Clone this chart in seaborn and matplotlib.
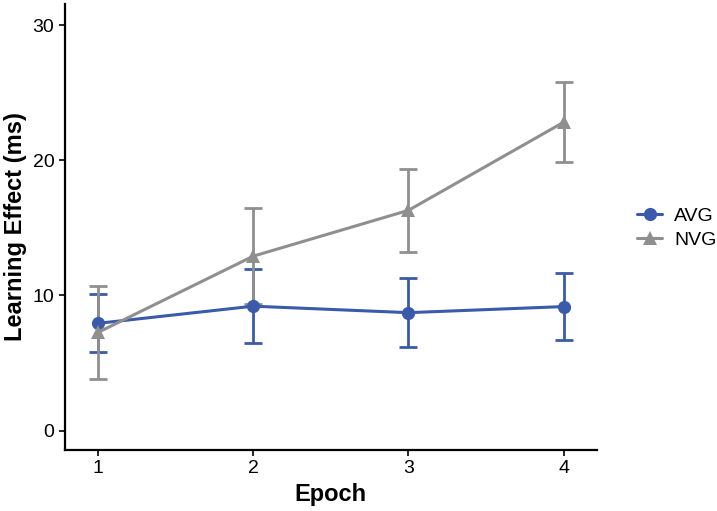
import numpy as np
import pandas as pd
import matplotlib
matplotlib.use("Agg")
import matplotlib.pyplot as plt
import seaborn as sns
from matplotlib.lines import Line2D

epochs = [1, 2, 3, 4]
groups = ["AVG", "NVG"]
avg_mean = [7.93, 9.20, 8.72, 9.17]
avg_err = [2.15, 2.75, 2.54, 2.49]
nvg_mean = [7.26, 12.90, 16.29, 22.81]
nvg_err = [3.43, 3.55, 3.06, 2.97]

colors = {"AVG": "#3A5BAA", "NVG": "#8F8F8F"}
markers = {"AVG": "o", "NVG": "^"}

df = pd.DataFrame({
    "Epoch": epochs * 2,
    "Group": ["AVG"] * 4 + ["NVG"] * 4,
    "Mean": avg_mean + nvg_mean,
    "Err": avg_err + nvg_err,
})

sns.set_theme(style="ticks")
plt.rcParams["font.family"] = ["Liberation Sans", "DejaVu Sans"]

fig = plt.figure(figsize=(7.17, 5.11), dpi=100)
ax = fig.add_axes([0.0902, 0.1194, 0.7424, 0.8726])

for g in groups:
    d = df[df.Group == g]
    ax.errorbar(d.Epoch, d.Mean, yerr=d.Err, fmt="none", ecolor=colors[g],
                elinewidth=2.0, capsize=6.8, capthick=2.0, zorder=2)

sns.lineplot(data=df, x="Epoch", y="Mean", hue="Group", style="Group",
             palette=colors, markers=markers, dashes=False, linewidth=2.2,
             markersize=9.5, markeredgewidth=0, ax=ax, legend=False, zorder=3)

ax.set_xlim(0.785, 4.215)
ax.set_ylim(-1.44, 31.55)
ax.set_xticks(epochs)
ax.set_yticks([0, 10, 20, 30])
ax.tick_params(axis="both", colors="black", labelcolor="black", labelsize=14,
               width=1.2, length=4.5, direction="out", pad=3)
for s in ["top", "right"]:
    ax.spines[s].set_visible(False)
for s in ["left", "bottom"]:
    ax.spines[s].set_color("black")
    ax.spines[s].set_linewidth(1.6)

ax.set_xlabel("Epoch", fontsize=17, fontweight="bold", labelpad=4, color="black")
ax.set_ylabel("Learning Effect (ms)", fontsize=17, fontweight="bold", labelpad=4,
              color="black")

handles = [Line2D([0], [0], color=colors[g], marker=markers[g], lw=2.2,
                  markersize=9.5, markeredgewidth=0) for g in groups]
fig.legend(handles, groups, loc="center left", bbox_to_anchor=(0.864, 0.554),
           frameon=False, fontsize=14, handlelength=1.3, handletextpad=0.6,
           labelspacing=0.35, labelcolor="black")

fig.savefig("out.png", dpi=100)
